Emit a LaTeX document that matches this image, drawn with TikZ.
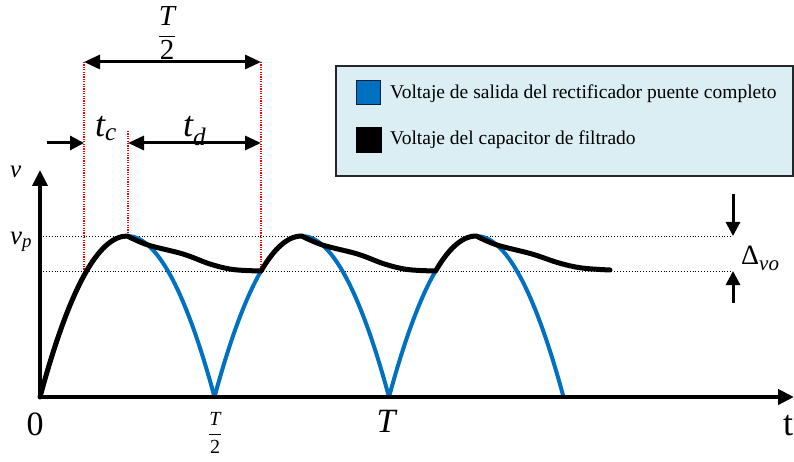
\documentclass[tikz,border=0pt]{standalone}
\usepackage{fontspec}
\usepackage{amsmath}
\setmainfont{Liberation Serif}
\usetikzlibrary{arrows.meta}
\definecolor{wblue}{HTML}{0070C0}
\definecolor{legfill}{HTML}{DAEEF3}
\begin{document}
\begin{tikzpicture}[x=1pt,y=-1pt,
  axis/.style={line width=4pt,-{Triangle[length=16pt,width=15pt]}},
  dimarrow/.style={line width=3pt,{Triangle[length=16pt,width=14pt]}-{Triangle[length=16pt,width=14pt]}},
  onearrow/.style={line width=3pt,-{Triangle[length=14pt,width=14pt]}},
  guide/.style={dotted, line width=0.9pt, black},
  redguide/.style={dash pattern=on 1.2pt off 1.2pt, line width=1.2pt, red},
  rectcurve/.style={line width=4pt, wblue, line join=round},
  capcurve/.style={line width=5pt, black, line join=round, line cap=round},
  lbl/.style={inner sep=0pt},
  legtext/.style={inner sep=0pt, anchor=west, font=\fontsize{19.5}{22}\selectfont}
]
\useasboundingbox (0,0) rectangle (794,462);

% legend
\node[draw=black!85, line width=2pt, fill=legfill, minimum width=457pt, minimum height=110pt, anchor=north west, inner sep=0pt] (leg) at (335,65) {};
\node[draw=black!70!wblue, line width=1pt, fill=wblue, minimum size=24pt, inner sep=0pt] (sq1) at (368.5,92.5) {};
\node[draw=black, fill=black, minimum size=25pt, inner sep=0pt] (sq2) at (368.5,140) {};
\node[legtext] (l1) at (390,94) {Voltaje de salida del rectificador puente completo};
\node[legtext] (l2) at (390,140) {Voltaje del capacitor de filtrado};

% coordinates
\coordinate (O) at (40,397);
\coordinate (ytop) at (40,170);
\coordinate (xend) at (794,397);
\coordinate (vpL) at (40,236);
\coordinate (vpR) at (733,236);
\coordinate (lowL) at (40,271);
\coordinate (lowR) at (733,271);
\coordinate (r1top) at (84,62);
\coordinate (r1bot) at (84,271);
\coordinate (r2top) at (128,131);
\coordinate (r2bot) at (128,236);
\coordinate (r3top) at (261,62);
\coordinate (r3bot) at (261,271);
\coordinate (td1) at (128,143);
\coordinate (td2) at (261,143);
\coordinate (tcs) at (47,143);
\coordinate (tce) at (84,143);
\coordinate (dA) at (733,194);
\coordinate (dB) at (733,303);

% guide lines
\draw[guide] (vpL) -- (vpR);
\draw[guide] (lowL) -- (lowR);
\draw[redguide] (r1top) -- (r1bot);
\draw[redguide] (r2top) -- (r2bot);
\draw[redguide] (r3top) -- (r3bot);

% rectified voltage (parabolic arches, quadratic -> cubic)
\draw[rectcurve] (40,397) .. controls (98.17,182.33) and (156.33,182.33) .. (214.5,397)
  .. controls (272.67,182.33) and (330.83,182.33) .. (389,397)
  .. controls (447.17,182.33) and (505.33,182.33) .. (563.5,397);

% capacitor voltage
\draw[capcurve] (40,397) .. controls (69.08,289.67) and (98.17,236) .. (127.25,236)
  -- plot[smooth, tension=0.6] coordinates {(127.25,236) (148,245) (183,254) (210,264) (233,269.5) (261.07,271)}
  -- plot[domain=261.07:301.75, samples=20] (\x,{236+161*((\x-301.75)/87.25)*((\x-301.75)/87.25)})
  -- plot[smooth, tension=0.6] coordinates {(301.75,236) (322.5,245) (357.5,254) (384.5,264) (407.5,269.5) (435.57,271)}
  -- plot[domain=435.57:476.25, samples=20] (\x,{236+161*((\x-476.25)/87.25)*((\x-476.25)/87.25)})
  -- plot[smooth, tension=0.6] coordinates {(476.25,236) (497,245) (532,254) (559,263) (582,268) (610,270)};

% axes
\draw[axis] (O) -- (ytop);
\draw[axis] (O) -- (xend);

% dimension arrows
\draw[dimarrow] (r1top) -- (r3top);
\draw[dimarrow] (td1) -- (td2);
\draw[onearrow] (tcs) -- (tce);
\draw[onearrow] (dA) -- (vpR);
\draw[onearrow] (dB) -- (lowR);

% labels
\node[lbl, font=\fontsize{29}{29}\selectfont] (Ttop) at (167,33) {$\genfrac{}{}{1pt}{0}{\textit{T}}{\textrm{2}}$};
\node[lbl, anchor=base west, font=\fontsize{36}{36}\selectfont] (tc) at (95,137) {$\textit{t}_{\textit{c}}$};
\node[lbl, anchor=base west, font=\fontsize{36}{36}\selectfont] (td) at (183,137) {$\textit{t}_{\textit{d}}$};
\node[lbl, anchor=base west, font=\fontsize{25}{25}\selectfont] (v) at (10,178) {\textit{v}};
\node[lbl, anchor=base west, font=\fontsize{27}{27}\selectfont] (vp) at (10,244) {$\textit{v}_{\textit{p}}$};
\node[lbl, anchor=base west] (dvo) at (741,264) {{\fontsize{28}{28}\selectfont Δ}\raisebox{-6pt}{\fontsize{21}{21}\selectfont\itshape vo}};
\node[lbl, anchor=base, font=\fontsize{34}{34}\selectfont] (zero) at (35,435) {0};
\node[lbl, font=\fontsize{20}{20}\selectfont] (Tbot) at (215,433) {$\genfrac{}{}{0.8pt}{0}{\textit{T}}{\textrm{2}}$};
\node[lbl, anchor=base, font=\fontsize{34}{34}\selectfont] (T) at (387,432) {\textit{T}};
\node[lbl, anchor=base, font=\fontsize{36}{36}\selectfont] (tlab) at (788,435) {t};
\end{tikzpicture}
\end{document}
